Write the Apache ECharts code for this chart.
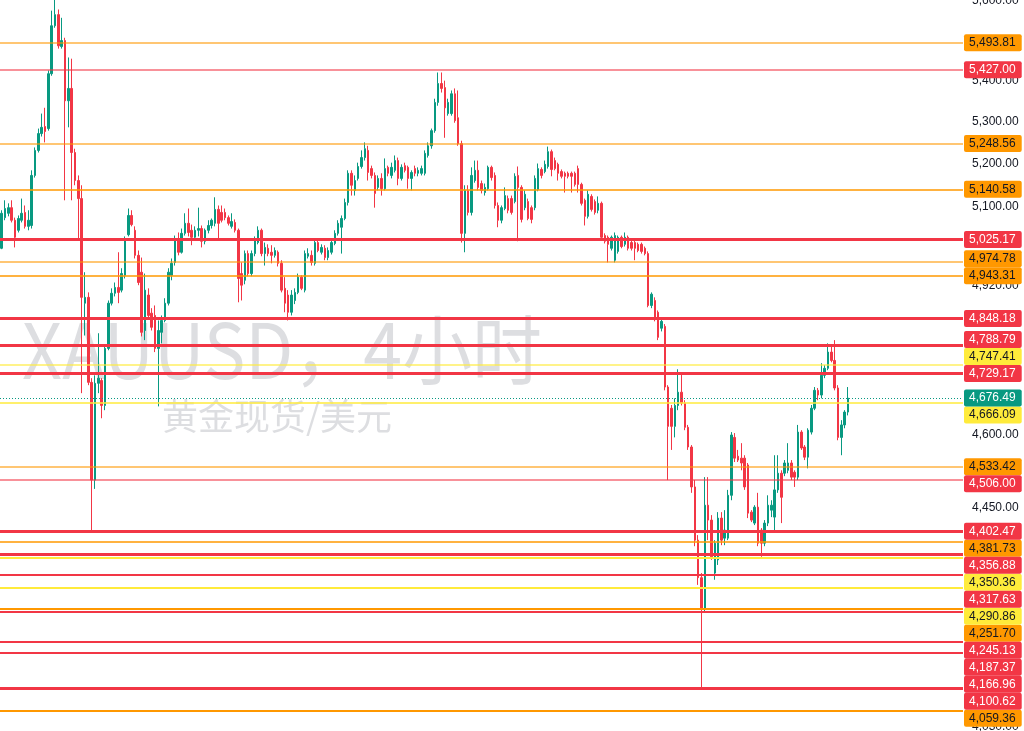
<!DOCTYPE html>
<html><head><meta charset="utf-8">
<script src="https://cdn.jsdelivr.net/npm/echarts@6/dist/echarts.min.js"></script>
<style>html,body{margin:0;padding:0;background:#fff}#c{width:1024px;height:731px}</style>
</head><body><div id="c"></div>
<script>
// ---- data (4H XAUUSD candles) ----
const opens = [5005,5075,5085,5098,5069,5046,5069,5087,5055,5057,5173,5232,5272,5289,5284,5417,5536,5564,5484,5499,5351,5381,5227,5161,5119,4882,4895,4710,4506,4708,4714,4661,4783,4882,4904,4917,4911,4944,5036,5080,5046,4989,4951,4822,4900,4860,4855,4783,4818,4844,4882,4944,4973,5027,4996,5039,5062,5046,5030,5046,5050,5021,5046,5057,5062,5094,5087,5087,5075,5055,5064,5046,4948,4933,4993,4948,4993,5018,5046,4993,5005,4996,4989,4996,4971,4915,4900,4862,4888,4906,4940,4911,4987,4989,4971,5018,4996,5005,4984,4996,5016,5039,5053,5073,5110,5178,5138,5166,5194,5215,5232,5189,5173,5145,5166,5142,5192,5173,5185,5208,5166,5196,5192,5166,5189,5178,5178,5178,5220,5243,5279,5347,5393,5383,5320,5320,5368,5310,5248,5039,5138,5087,5161,5185,5154,5133,5142,5192,5173,5103,5069,5096,5119,5119,5112,5173,5145,5098,5112,5098,5098,5140,5187,5182,5194,5229,5208,5199,5182,5178,5178,5178,5178,5189,5152,5115,5078,5124,5112,5092,5108,5034,5030,5005,4978,4998,5030,5014,5030,5018,5018,5014,5014,5005,4993,4877,4888,4862,4827,4831,4700,4655,4617,4661,4689,4666,4615,4574,4492,4385,4311,4252,4455,4425,4320,4346,4429,4389,4389,4475,4594,4555,4551,4551,4537,4441,4419,4451,4405,4379,4419,4445,4431,4486,4520,4520,4526,4541,4522,4512,4605,4574,4553,4605,4655,4693,4683,4725,4740,4775,4757,4698,4594,4620,4647];
const highs = [5092,5115,5108,5115,5075,5080,5119,5103,5092,5185,5239,5284,5320,5334,5425,5574,5605,5577,5556,5506,5457,5454,5236,5173,5150,4951,4906,4719,4725,4816,4719,4790,4888,4915,4928,4996,4960,5032,5096,5092,5055,5000,4984,4948,4915,4871,4877,4844,4855,4893,4960,4982,5034,5041,5050,5085,5096,5059,5055,5098,5057,5050,5069,5073,5122,5103,5103,5096,5080,5085,5071,5050,4973,5000,5000,5000,5032,5055,5050,5018,5014,5012,5007,5000,4978,4940,4911,4911,4915,4948,4944,5000,5005,5000,5023,5023,5014,5012,5007,5027,5046,5069,5080,5119,5185,5185,5173,5203,5232,5251,5243,5196,5180,5173,5178,5213,5196,5203,5220,5215,5199,5203,5196,5185,5196,5192,5196,5232,5251,5284,5356,5420,5420,5400,5356,5376,5381,5376,5255,5150,5150,5192,5208,5208,5161,5154,5196,5196,5180,5110,5103,5145,5126,5126,5178,5194,5150,5138,5119,5103,5173,5201,5192,5208,5241,5234,5215,5203,5187,5182,5182,5182,5182,5196,5156,5119,5138,5129,5117,5124,5112,5039,5034,5034,5041,5034,5034,5041,5034,5023,5023,5018,5018,5009,4998,4906,4895,4866,4849,4836,4704,4662,4676,4738,4731,4672,4620,4578,4506,4395,4320,4512,4512,4435,4385,4441,4441,4445,4486,4605,4603,4568,4582,4557,4541,4445,4455,4480,4409,4425,4475,4465,4557,4557,4526,4547,4582,4547,4526,4620,4609,4578,4613,4662,4700,4698,4751,4747,4794,4790,4801,4704,4630,4651,4700];
const lows = [5003,5069,5078,5064,5007,5041,5064,5050,5046,5050,5168,5227,5265,5251,5279,5412,5531,5479,5479,5115,5287,5115,5150,5023,4687,4811,4704,4405,4488,4687,4634,4651,4779,4877,4897,4882,4906,4937,5032,5055,4982,4922,4809,4801,4849,4822,4775,4659,4794,4840,4877,4933,4966,4989,4993,5034,5032,5012,5023,5032,5007,5014,5039,5050,5055,5023,5064,5069,5057,5050,5041,4884,4888,4924,4942,4942,4987,5014,4987,4966,4987,4971,4984,4964,4906,4862,4844,4855,4880,4902,4911,4906,4982,4966,4966,4996,4991,4978,4978,4991,5012,5034,4993,5069,5103,5126,5126,5161,5189,5208,5161,5166,5098,5138,5126,5138,5171,5166,5180,5150,5161,5180,5142,5138,5171,5171,5173,5173,5215,5236,5274,5339,5371,5262,5315,5315,5298,5243,5018,4996,5080,5080,5156,5138,5131,5126,5138,5161,5096,5053,5062,5092,5085,5082,5108,5021,5064,5092,5069,5062,5092,5136,5166,5178,5189,5171,5185,5161,5166,5133,5166,5133,5147,5133,5103,5057,5073,5089,5082,5085,5025,5016,4973,5000,4973,4993,5005,5009,5000,5000,4978,4996,4993,4989,4873,4871,4842,4801,4820,4693,4506,4568,4594,4651,4661,4609,4568,4480,4373,4297,4101,4245,4385,4346,4307,4336,4375,4375,4385,4465,4543,4543,4526,4486,4429,4421,4415,4373,4352,4373,4413,4431,4405,4480,4419,4514,4520,4506,4492,4506,4568,4547,4530,4600,4651,4672,4676,4719,4736,4753,4693,4588,4557,4613,4640];
const closes = [5085,5096,5098,5069,5030,5073,5085,5055,5069,5173,5232,5272,5287,5277,5417,5536,5564,5486,5499,5351,5381,5227,5161,5119,4895,4895,4710,4506,4708,4719,4661,4783,4882,4904,4917,4906,4948,5023,5080,5059,4989,4928,4818,4911,4855,4829,4783,4822,4844,4882,4951,4971,5027,4996,5039,5062,5041,5030,5046,5050,5021,5046,5057,5069,5094,5062,5069,5075,5062,5066,5046,4937,4922,4993,4948,4993,5023,5046,4993,5007,4993,4989,5000,4971,4911,4882,4862,4900,4906,4940,4915,4993,4993,4973,5018,5000,5007,4984,5000,5018,5039,5062,5073,5110,5178,5150,5161,5194,5215,5236,5180,5173,5131,5166,5142,5189,5178,5192,5208,5166,5192,5185,5166,5180,5178,5185,5189,5225,5243,5279,5347,5393,5381,5334,5347,5368,5303,5248,5039,5138,5087,5173,5185,5145,5138,5145,5192,5168,5103,5069,5098,5126,5092,5087,5171,5145,5071,5129,5073,5071,5166,5189,5173,5199,5229,5187,5189,5178,5171,5171,5171,5171,5152,5152,5108,5078,5129,5094,5087,5108,5030,5021,5014,5030,5034,5030,5009,5030,5005,5005,5005,5000,4998,4993,4877,4902,4846,4807,4842,4700,4617,4617,4661,4689,4666,4615,4574,4492,4385,4311,4252,4455,4425,4352,4379,4429,4385,4405,4475,4599,4551,4547,4541,4492,4439,4425,4451,4379,4379,4419,4455,4455,4486,4520,4471,4541,4541,4512,4512,4605,4572,4553,4609,4655,4693,4683,4725,4740,4775,4757,4698,4594,4620,4647,4676.49];
const futureSlots = 34;                       // empty bars to the right of the last candle
const priceTicks = [5600, 5400, 5300, 5200, 5100, 4920, 4600, 4450, 4030];

// horizontal price levels, grouped by kind
const redStrong   = [5025.17, 4848.18, 4788.79, 4729.17, 4402.47, 4356.88, 4100.62];
const redNormal   = [4317.63, 4245.13, 4187.37, 4166.96];
const redLight    = [5427.00, 4506.00];
const orangeThin  = [5140.58, 4943.31, 4381.73];
const orangeBold  = [4251.70, 4059.36];
const orangeLight = [5493.81, 5248.56, 4974.78, 4533.42];
const yellowBold  = [4350.36, 4290.86];
const yellowLight = [4747.41];
const yellowThin  = [4666.09];

const watermarkTitle = 'XAUUSD，4小时';
const watermarkSub = '黄金现货/美元';

// ---- styles ----
const UP = '#089981', DOWN = '#F23645';
const boxStyle = {
  red: {bg: '#F23645', fg: '#ffffff'},
  orange: {bg: '#FF9800', fg: '#131722'},
  yellow: {bg: '#FFEB3B', fg: '#131722'},
  current: {bg: '#089981', fg: '#ffffff'}
};
const groups = [
  {values: orangeLight, box: 'orange', line: {color: 'rgba(255,152,0,0.55)', width: 2}},
  {values: orangeThin,  box: 'orange', line: {color: '#FF9800', width: 1.5}},
  {values: orangeBold,  box: 'orange', line: {color: '#FF9800', width: 2}},
  {values: yellowLight, box: 'yellow', line: {color: 'rgba(255,235,59,0.6)', width: 2}},
  {values: yellowThin,  box: 'yellow', line: {color: '#FFEB3B', width: 1.5}},
  {values: yellowBold,  box: 'yellow', line: {color: '#FFEB3B', width: 2}},
  {values: redLight,    box: 'red',    line: {color: 'rgba(242,54,69,0.55)', width: 2}},
  {values: redNormal,   box: 'red',    line: {color: '#F23645', width: 2}},
  {values: redStrong,   box: 'red',    line: {color: '#F23645', width: 3}}
];

const n = closes.length;
const slots = [];
for (let i = 0; i < n + futureSlots; i++) slots.push('b' + i);
const candles = opens.map((o, i) => [o, closes[i], lows[i], highs[i]]);
const lastPrice = closes[n - 1];
const fmt = v => Number(v).toLocaleString('en-US', {minimumFractionDigits: 2, maximumFractionDigits: 2});
const FONT = '"Liberation Sans", Arial, sans-serif';

const markData = [];
groups.forEach(g => g.values.forEach(v => markData.push({yAxis: v, lineStyle: {type: 'solid', color: g.line.color, width: g.line.width, opacity: 1}})));
markData.push({yAxis: lastPrice, lineStyle: {type: [1, 2], color: UP, width: 1, opacity: 1}});

const watermark = [
  {type: 'text', x: 22, y: 350, z: -10, silent: true, scaleX: 0.92,
   style: {text: watermarkTitle, fill: 'rgba(120,123,134,0.25)', font: '76px "Noto Sans CJK SC", sans-serif', align: 'left', verticalAlign: 'middle'}},
  {type: 'text', x: 277, y: 416, z: -10, silent: true,
   style: {text: watermarkSub, fill: 'rgba(120,123,134,0.25)', font: '36px "Noto Sans CJK SC", sans-serif', align: 'center', verticalAlign: 'middle'}}
];

const chart = echarts.init(document.getElementById('c'));
chart.setOption({
  animation: false,
  backgroundColor: '#ffffff',
  grid: {left: 0, right: 61, top: 0, bottom: 0, containLabel: false, outerBoundsMode: 'none'},
  xAxis: {type: 'category', data: slots, boundaryGap: true, show: false},
  yAxis: {
    type: 'log', logBase: 10, position: 'right', min: 4021.7, max: 5601,
    axisLine: {show: false}, axisTick: {show: false}, splitLine: {show: false},
    axisLabel: {customValues: priceTicks, formatter: v => fmt(v), color: '#131722', fontSize: 12, fontFamily: FONT, margin: 9}
  },
  graphic: watermark,
  series: [{
    type: 'candlestick', data: candles, barWidth: 2,
    itemStyle: {color: UP, color0: DOWN, borderColor: UP, borderColor0: DOWN, borderWidth: 1},
    markLine: {silent: true, symbol: 'none', animation: false, label: {show: false},
               emphasis: {disabled: true}, data: markData}
  }]
});

// ---- price labels on the axis, stacked outward from the current price ----
const H = 17;
const items = [];
groups.forEach(g => g.values.forEach(v => items.push({v, box: g.box})));
const yOf = v => chart.convertToPixel({yAxisIndex: 0}, v);
const curY = yOf(lastPrice);
items.forEach(it => it.y = yOf(it.v));
const above = items.filter(it => it.y < curY).sort((a, b) => b.y - a.y);
const below = items.filter(it => it.y >= curY).sort((a, b) => a.y - b.y);
let prev = curY;
above.forEach(it => { it.py = Math.min(it.y, prev - H); prev = it.py; });
prev = curY;
below.forEach(it => { it.py = Math.max(it.y, prev + H); prev = it.py; });
const step = chart.convertToPixel({xAxisIndex: 0}, slots[1]) - chart.convertToPixel({xAxisIndex: 0}, slots[0]);
const gridRight = chart.convertToPixel({xAxisIndex: 0}, slots[slots.length - 1]) + step / 2;
const labels = items.concat([{v: lastPrice, box: 'current', py: curY}]).map(it => ({
  type: 'text', x: Math.round(gridRight) + 1, y: it.py, z: 100, silent: true,
  style: {
    text: fmt(it.v), fill: boxStyle[it.box].fg, backgroundColor: boxStyle[it.box].bg,
    font: '12px ' + FONT, padding: [2, 6, 2, 5], lineHeight: 13, borderRadius: 2,
    align: 'left', verticalAlign: 'middle'
  }
}));
chart.setOption({graphic: watermark.concat(labels)});
</script></body></html>
